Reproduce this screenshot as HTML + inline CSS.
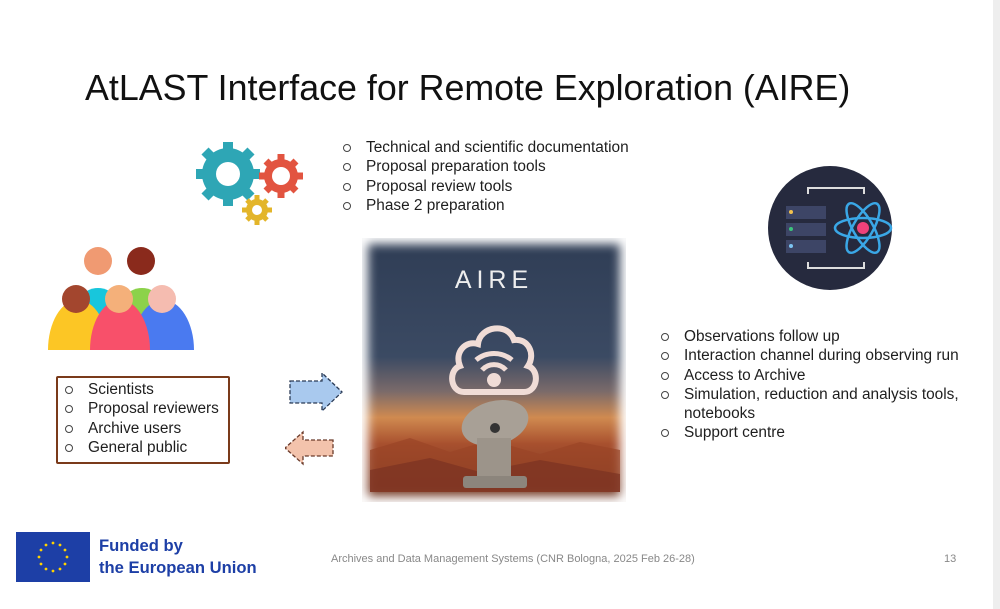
<!DOCTYPE html>
<html><head><meta charset="utf-8"><style>
body{margin:0;width:1000px;height:609px;background:#fff;position:relative;overflow:hidden;font-family:"Liberation Sans",sans-serif;color:#222}
.a{position:absolute}
ul{list-style:none;margin:0;padding:0}
li{position:relative;padding-left:26px;font-size:15.4px;line-height:19.3px;color:#1e1e1e}
li:before{content:"";position:absolute;left:3px;top:6px;width:6px;height:6px;border:1px solid #444;border-radius:50%}
</style></head><body>
<div class="a" style="left:993px;top:0;width:7px;height:609px;background:#eee"></div>
<div class="a" style="left:85px;top:68px;font-size:35.8px;color:#111">AtLAST Interface for Remote Exploration (AIRE)</div>

<svg class="a" style="left:190px;top:138px" width="120" height="90" viewBox="0 0 120 90">
<g fill="#2ea6b5"><circle cx="38" cy="36" r="26"/><g stroke="#2ea6b5" stroke-width="10">
<line x1="38" y1="4" x2="38" y2="68"/><line x1="6" y1="36" x2="70" y2="36"/><line x1="15" y1="13" x2="61" y2="59"/><line x1="61" y1="13" x2="15" y2="59"/></g></g>
<circle cx="38" cy="36" r="12" fill="#fff"/>
<g fill="#e25440"><circle cx="91" cy="38" r="17"/><g stroke="#e25440" stroke-width="7"><line x1="91" y1="16" x2="91" y2="60"/><line x1="69" y1="38" x2="113" y2="38"/><line x1="76" y1="23" x2="106" y2="53"/><line x1="106" y1="23" x2="76" y2="53"/></g></g>
<circle cx="91" cy="38" r="9" fill="#fff"/>
<g fill="#e3b52a"><circle cx="67" cy="72" r="11"/><g stroke="#e3b52a" stroke-width="5"><line x1="67" y1="57" x2="67" y2="87"/><line x1="52" y1="72" x2="82" y2="72"/><line x1="57" y1="62" x2="77" y2="82"/><line x1="77" y1="62" x2="57" y2="82"/></g></g>
<circle cx="67" cy="72" r="5" fill="#fff"/>
</svg>

<ul class="a" style="left:340px;top:138px"><li>Technical and scientific documentation</li><li>Proposal preparation tools</li><li>Proposal review tools</li><li>Phase 2 preparation</li></ul>

<svg class="a" style="left:766px;top:164px" width="128" height="128">
<circle cx="64" cy="64" r="62" fill="#262a3e"/>
<path d="M42 30v-6h56v6M42 98v6h56v-6" stroke="#ddd" stroke-width="2" fill="none"/>
<rect x="20" y="42" width="40" height="13" fill="#3d4566"/><rect x="20" y="59" width="40" height="13" fill="#3d4566"/><rect x="20" y="76" width="40" height="13" fill="#3d4566"/>
<circle cx="25" cy="48" r="2" fill="#f2c14e"/><circle cx="25" cy="65" r="2" fill="#3cc47c"/><circle cx="25" cy="82" r="2" fill="#7cc4f2"/>
<g fill="none" stroke="#3aa7e6" stroke-width="2.5"><ellipse cx="97" cy="64" rx="28" ry="10"/><ellipse cx="97" cy="64" rx="28" ry="10" transform="rotate(60 97 64)"/><ellipse cx="97" cy="64" rx="28" ry="10" transform="rotate(-60 97 64)"/></g>
<circle cx="97" cy="64" r="6" fill="#f0417a"/>
</svg>

<svg class="a" style="left:48px;top:244px" width="146" height="106">
<path d="M22 80a28 36 0 0 1 56 0z" fill="#18c6dc"/><path d="M66 80a28 36 0 0 1 56 0z" fill="#8cd24a"/>
<circle cx="50" cy="17" r="14" fill="#f09a72"/><circle cx="93" cy="17" r="14" fill="#8a2a1c"/>
<path d="M0 106a30 50 0 0 1 60 0z" fill="#fcc625"/><path d="M84 106a31 50 0 0 1 62 0z" fill="#4a7af0"/>
<path d="M42 106a30 50 0 0 1 60 0z" fill="#f8506a"/>
<circle cx="28" cy="55" r="14" fill="#a3462e"/><circle cx="71" cy="55" r="14" fill="#f4b07a"/><circle cx="114" cy="55" r="14" fill="#f5bcb0"/>
</svg>

<div class="a" style="left:56px;top:376px;width:170px;height:84px;border:2px solid #7a3a1a;border-radius:2px"></div>
<ul class="a" style="left:62px;top:380px"><li>Scientists</li><li>Proposal reviewers</li><li>Archive users</li><li>General public</li></ul>

<svg class="a" style="left:285px;top:372px" width="62" height="100">
<path d="M5 9h32v-8l20 19-20 19v-8H5z" fill="#a9c9ee" stroke="#2a3a55" stroke-dasharray="4 2" stroke-width="1.3"/>
<path d="M48 68h-30v-8l-18 16 18 16v-8h30z" fill="#f3c3ac" stroke="#6a3a2a" stroke-dasharray="4 2" stroke-width="1.3"/>
</svg>

<div class="a" style="left:362px;top:238px;width:264px;height:264px;background:linear-gradient(180deg,#2f3d55 0%,#3b4a63 45%,#7a6a6a 58%,#d08a50 68%,#a8502e 78%,#6a3422 100%);box-shadow:0 0 10px 6px #fff inset"></div>
<svg class="a" style="left:370px;top:430px" width="250" height="62"><path d="M0 20 40 8 80 22 120 10 170 24 210 12 250 20V62H0z" fill="#9a4426" opacity=".7"/><path d="M0 40 60 28 110 42 170 30 250 44V62H0z" fill="#7a3222" opacity=".7"/></svg>
<div class="a" style="left:362px;top:266px;width:264px;text-align:center;color:#eee;font-size:25px;letter-spacing:5px">AIRE</div>
<svg class="a" style="left:446px;top:308px" width="96" height="90">
<path d="M18 84c-14 0-16-22-4-26-6-14 6-26 18-22 2-18 30-22 36-4 14-2 22 14 14 26 12 4 10 26-4 26z" fill="none" stroke="#f0dcd6" stroke-width="6"/>
<path d="M30 52a28 28 0 0 1 36 0M36 62a16 16 0 0 1 24 0" stroke="#f0dcd6" stroke-width="5" fill="none"/>
<circle cx="48" cy="72" r="7" fill="#f0dcd6"/>
</svg>
<svg class="a" style="left:455px;top:398px" width="80" height="95">
<ellipse cx="40" cy="25" rx="34" ry="22" fill="#a8a096" transform="rotate(-15 40 25)"/>
<rect x="22" y="40" width="34" height="38" fill="#9c948a"/><rect x="8" y="78" width="64" height="12" rx="3" fill="#8c857c"/>
<circle cx="40" cy="30" r="5" fill="#333"/>
</svg>

<ul class="a" style="left:658px;top:327px"><li>Observations follow up</li><li>Interaction channel during observing run</li><li>Access to Archive</li><li>Simulation, reduction and analysis tools,<br>notebooks</li><li>Support centre</li></ul>

<svg class="a" style="left:16px;top:532px" width="74" height="50"><rect width="74" height="50" fill="#1d3fa6"/>
<g fill="#ffd200"><circle cx="37" cy="11" r="1.4"/><circle cx="44" cy="13" r="1.4"/><circle cx="49" cy="18" r="1.4"/><circle cx="51" cy="25" r="1.4"/><circle cx="49" cy="32" r="1.4"/><circle cx="44" cy="37" r="1.4"/><circle cx="37" cy="39" r="1.4"/><circle cx="30" cy="37" r="1.4"/><circle cx="25" cy="32" r="1.4"/><circle cx="23" cy="25" r="1.4"/><circle cx="25" cy="18" r="1.4"/><circle cx="30" cy="13" r="1.4"/></g></svg>
<div class="a" style="left:99px;top:535px;font-size:16.6px;font-weight:bold;color:#1d3fa6;line-height:22px">Funded by<br>the European Union</div>
<div class="a" style="left:331px;top:553px;font-size:11px;color:#888">Archives and Data Management Systems (CNR Bologna, 2025 Feb 26-28)</div>
<div class="a" style="left:944px;top:553px;font-size:11px;color:#888">13</div>
</body></html>
